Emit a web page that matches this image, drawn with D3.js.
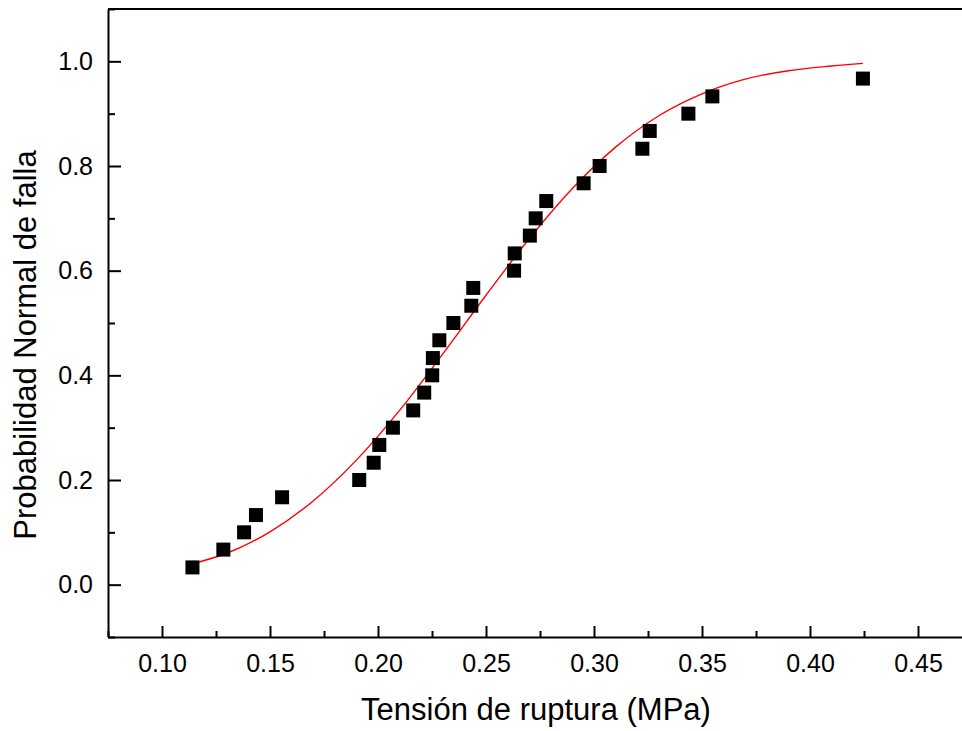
<!DOCTYPE html>
<html>
<head>
<meta charset="utf-8">
<script src="https://cdn.jsdelivr.net/npm/d3@7"></script>
<style>
  html, body { margin: 0; padding: 0; background: #fff; }
  svg { display: block; font-family: "Liberation Sans", Arial, sans-serif; }
</style>
</head>
<body>
<svg id="chart" width="962" height="731"></svg>
<script>
// Observed data: tensile strength (MPa) and normal failure probability
const tension = [0.1141, 0.1284, 0.1380, 0.1435, 0.1556, 0.1913, 0.1980, 0.2006, 0.2069, 0.2163,
                 0.2214, 0.2251, 0.2254, 0.2284, 0.2349, 0.2432, 0.2441, 0.2630, 0.2633, 0.2703,
                 0.2730, 0.2779, 0.2952, 0.3026, 0.3224, 0.3258, 0.3437, 0.3548, 0.4245];
const probabilidad = [0.033, 0.067, 0.100, 0.133, 0.167, 0.200, 0.233, 0.267, 0.300, 0.333,
                      0.367, 0.400, 0.433, 0.467, 0.500, 0.533, 0.567, 0.600, 0.633, 0.667,
                      0.700, 0.733, 0.767, 0.800, 0.833, 0.867, 0.900, 0.933, 0.967];

// Fitted curve (red)
const fitX = [0.1141, 0.13, 0.15, 0.17, 0.19, 0.21, 0.23, 0.25, 0.27, 0.29, 0.31, 0.33, 0.35, 0.37, 0.39, 0.41, 0.4245];
const fitY = [0.040, 0.060, 0.101, 0.160, 0.238, 0.333, 0.441, 0.553, 0.661, 0.757, 0.836, 0.896, 0.938, 0.966, 0.982, 0.991, 0.996];

// Axis ticks
const xTicks = [0.10, 0.15, 0.20, 0.25, 0.30, 0.35, 0.40, 0.45];
const xMinor = [0.075, 0.125, 0.175, 0.225, 0.275, 0.325, 0.375, 0.425, 0.475];
const yTicks = [0.0, 0.2, 0.4, 0.6, 0.8, 1.0];
const yMinor = [-0.1, 0.1, 0.3, 0.5, 0.7, 0.9, 1.1];

const xTitle = "Tensión de ruptura (MPa)";
const yTitle = "Probabilidad Normal de falla";

const svg = d3.select("#chart");
const x = d3.scaleLinear().domain([0.075, 0.475]).range([108, 972]);
const y = d3.scaleLinear().domain([-0.1, 1.1]).range([637, 9]);

const fontSize = 25;

// Top frame line
svg.append("line")
  .attr("x1", 108).attr("x2", 972).attr("y1", y(1.1)).attr("y2", y(1.1))
  .attr("stroke", "#000").attr("stroke-width", 2);

// Bottom axis (inward ticks)
const gx = svg.append("g").attr("transform", `translate(0,${y(-0.1)})`);
gx.call(d3.axisBottom(x).tickValues(xTicks).tickFormat(d3.format(".2f"))
  .tickSizeInner(-11).tickSizeOuter(0).tickPadding(17));
gx.select(".domain").attr("stroke-width", 2);
gx.selectAll(".tick line").attr("stroke-width", 2);
gx.selectAll(".tick text").attr("font-size", fontSize).attr("fill", "#000")
  .attr("font-family", "Liberation Sans, Arial, sans-serif");

const gxm = svg.append("g").attr("transform", `translate(0,${y(-0.1)})`);
gxm.call(d3.axisBottom(x).tickValues(xMinor).tickFormat("").tickSizeInner(-6).tickSizeOuter(0));
gxm.select(".domain").remove();
gxm.selectAll(".tick line").attr("stroke-width", 2);

// Left axis (inward ticks)
const gy = svg.append("g").attr("transform", `translate(${x(0.075)},0)`);
gy.call(d3.axisLeft(y).tickValues(yTicks).tickFormat(d3.format(".1f"))
  .tickSizeInner(-13).tickSizeOuter(0).tickPadding(15));
gy.select(".domain").attr("stroke-width", 2);
gy.selectAll(".tick line").attr("stroke-width", 2);
gy.selectAll(".tick text").attr("font-size", fontSize).attr("fill", "#000")
  .attr("font-family", "Liberation Sans, Arial, sans-serif");

const gym = svg.append("g").attr("transform", `translate(${x(0.075)},0)`);
gym.call(d3.axisLeft(y).tickValues(yMinor).tickFormat("").tickSizeInner(-7).tickSizeOuter(0));
gym.select(".domain").remove();
gym.selectAll(".tick line").attr("stroke-width", 2);

// Fitted line
const fitData = fitX.map((v, i) => [v, fitY[i]]);
svg.append("path")
  .datum(fitData)
  .attr("fill", "none")
  .attr("stroke", "#ff0000")
  .attr("stroke-width", 1.4)
  .attr("d", d3.line().x(d => x(d[0])).y(d => y(d[1])).curve(d3.curveMonotoneX));

// Square markers
const sz = 14;
svg.append("g").selectAll("rect")
  .data(tension.map((v, i) => [v, probabilidad[i]]))
  .join("rect")
  .attr("x", d => x(d[0]) - sz / 2)
  .attr("y", d => y(d[1]) - sz / 2)
  .attr("width", sz).attr("height", sz)
  .attr("fill", "#000");

// Titles
svg.append("text")
  .attr("x", 536).attr("y", 720)
  .attr("text-anchor", "middle")
  .attr("font-size", 31)
  .attr("fill", "#000")
  .text(xTitle);

svg.append("text")
  .attr("transform", `translate(36,${345}) rotate(-90)`)
  .attr("text-anchor", "middle")
  .attr("font-size", 31)
  .attr("fill", "#000")
  .text(yTitle);
</script>
</body>
</html>
